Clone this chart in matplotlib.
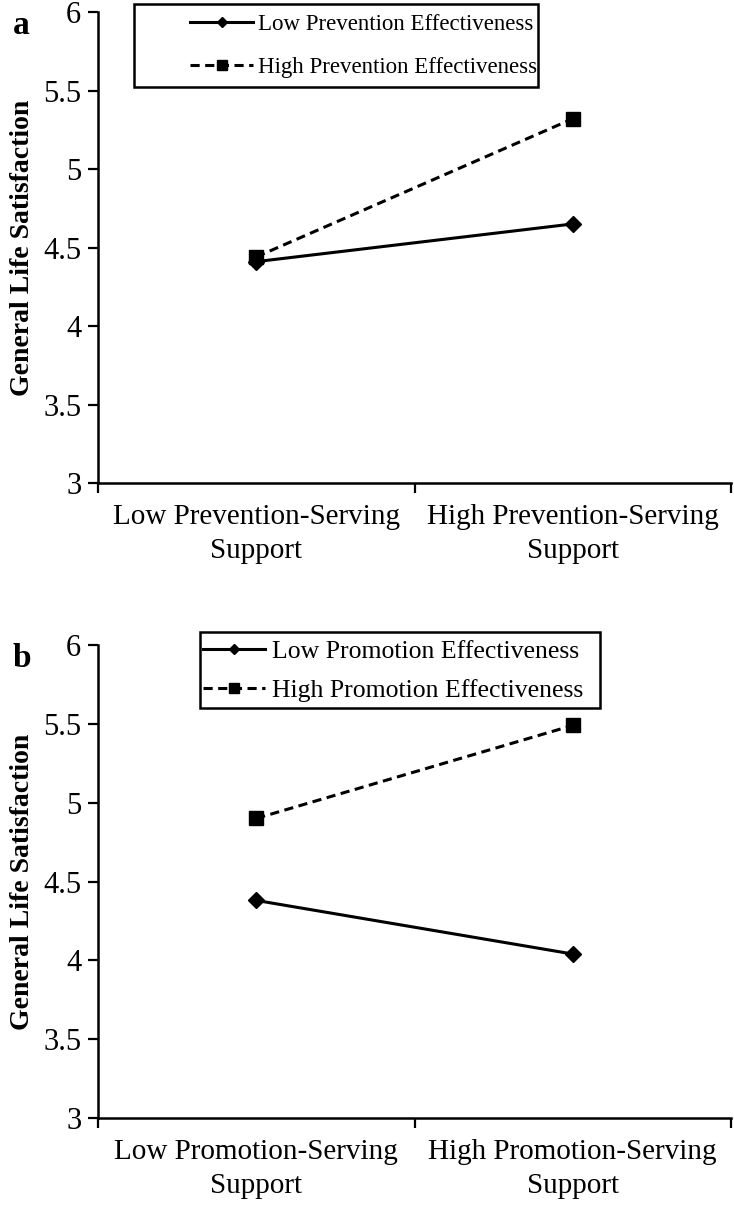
import matplotlib
matplotlib.use("Agg")
import matplotlib.pyplot as plt
from matplotlib.patches import Rectangle

# ---- data ----
cats_a = ["Low Prevention-Serving\nSupport", "High Prevention-Serving\nSupport"]
low_prev = [4.41, 4.65]
high_prev = [4.44, 5.32]

cats_b = ["Low Promotion-Serving\nSupport", "High Promotion-Serving\nSupport"]
low_prom = [4.38, 4.04]
high_prom = [4.90, 5.49]

yticks = [3, 3.5, 4, 4.5, 5, 5.5, 6]
ytick_labels = ["3", "3.5", "4", "4.5", "5", "5.5", "6"]

plt.rcParams['font.family'] = ['Liberation Serif', 'DejaVu Serif']

W, H = 734, 1228
fig = plt.figure(figsize=(W / 100, H / 100), dpi=100)

def px_axes(left, right, top, bottom):
    return [left / W, 1 - bottom / H, (right - left) / W, (bottom - top) / H]

def px_rect(left, right, top, bottom):
    return Rectangle((left / W, 1 - bottom / H), (right - left) / W, (bottom - top) / H,
                     transform=fig.transFigure, fill=False, edgecolor='black',
                     linewidth=1.8, zorder=5)

panels = [
    dict(rect=px_axes(98, 731, 12, 483), cats=cats_a, low=low_prev, high=high_prev,
         lab_low="Low Prevention Effectiveness", lab_high="High Prevention Effectiveness",
         letter="a", leg_px=(182, 6), box=(134, 538, 4, 87), fs=16.5,
         hl=2.75, htp=0.22, ls=0.94),
    dict(rect=px_axes(98, 731, 645, 1118), cats=cats_b, low=low_prom, high=high_prom,
         lab_low="Low Promotion Effectiveness", lab_high="High Promotion Effectiveness",
         letter="b", leg_px=(194, 631), box=(200, 600, 632, 708), fs=18.5,
         hl=2.4, htp=0.3, ls=0.62),
]

for p in panels:
    ax = fig.add_axes(p['rect'])
    cats = p['cats']
    x = list(range(len(cats)))
    ax.plot(x, p['low'], color='black', linestyle='-', linewidth=2.2, marker='D',
            markersize=8.5, label=p['lab_low'])
    ax.plot(x, p['high'], color='black', linestyle=(0, (3, 1.8)), linewidth=2.2, marker='s',
            markersize=10, label=p['lab_high'])
    ax.set_xlim(-0.5, len(cats) - 0.5)
    ax.set_ylim(3, 6)
    ax.set_yticks(yticks)
    ax.set_yticklabels(ytick_labels, fontsize=22)
    # category boundaries as ticks, labels centered in bins
    ax.set_xticks([i - 0.5 for i in range(len(cats) + 1)])
    ax.set_xticklabels([])
    ax.set_xticks(x, minor=True)
    ax.set_xticklabels(cats, minor=True, fontsize=21, linespacing=1.4)
    ax.tick_params(axis='x', which='minor', length=0, pad=15)
    ax.tick_params(axis='x', which='major', length=7, width=1.6, direction='out')
    ax.tick_params(axis='y', length=7, width=1.6, direction='out', pad=5)
    for s in ['top', 'right']:
        ax.spines[s].set_visible(False)
    for s in ['left', 'bottom']:
        ax.spines[s].set_linewidth(1.8)
    ax.set_ylabel("General Life Satisfaction", fontsize=20, fontweight='bold', labelpad=6)
    fig.legend(handles=ax.get_lines(), loc='upper left',
               bbox_to_anchor=(p['leg_px'][0] / W, 1 - p['leg_px'][1] / H),
               bbox_transform=fig.transFigure, fontsize=p['fs'],
               frameon=False, handlelength=p['hl'], markerscale=0.65,
               borderaxespad=0, borderpad=0.35, labelspacing=p['ls'],
               handletextpad=p['htp'])
    fig.add_artist(px_rect(*p['box']))
    ax.text(-0.135, 1.005, p['letter'], transform=ax.transAxes, fontsize=24,
            fontweight='bold', va='top', ha='left')

fig.savefig("out.png", dpi=100)
